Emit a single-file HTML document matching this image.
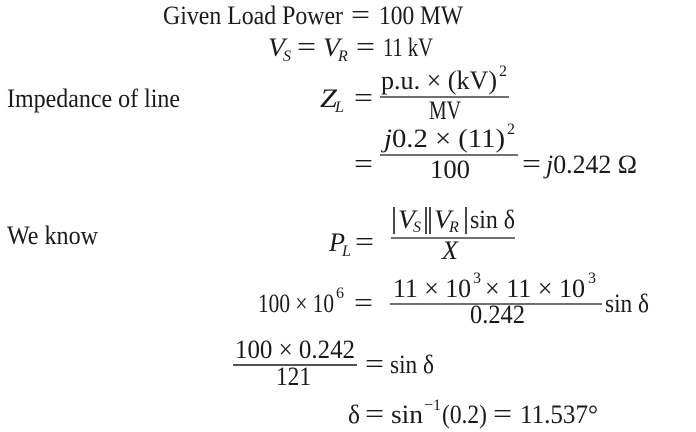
<!DOCTYPE html>
<html><head><meta charset="utf-8"><style>
html,body{margin:0;padding:0;background:#fff;}
svg{display:block;}
text{font-family:"Liberation Serif","DejaVu Serif",serif;font-size:26px;fill:#1a1a1a;}
.i{font-style:italic;}
.s{font-size:16px;}
.e{font-size:28px;}
</style></head><body>
<svg width="696" height="432" viewBox="0 0 696 432" xmlns="http://www.w3.org/2000/svg">
<!-- line 1 -->
<text x="163" y="24" textLength="180" lengthAdjust="spacingAndGlyphs">Given Load Power</text>
<text x="351" y="24" class="e" textLength="19" lengthAdjust="spacingAndGlyphs">=</text>
<text x="379" y="24" textLength="84" lengthAdjust="spacingAndGlyphs">100 MW</text>
<!-- line 2 -->
<text x="268" y="56" class="i" textLength="17" lengthAdjust="spacingAndGlyphs">V</text><text x="283" y="61" class="i s">S</text>
<text x="297" y="56" class="e" textLength="19" lengthAdjust="spacingAndGlyphs">=</text>
<text x="323" y="56" class="i" textLength="17" lengthAdjust="spacingAndGlyphs">V</text><text x="338" y="61" class="i s">R</text>
<text x="356" y="56" class="e" textLength="19" lengthAdjust="spacingAndGlyphs">=</text>
<text x="383" y="56" textLength="50" lengthAdjust="spacingAndGlyphs">11 kV</text>
<!-- line 3 -->
<text x="7" y="107" textLength="173" lengthAdjust="spacingAndGlyphs">Impedance of line</text>
<text x="320" y="107" class="i" textLength="17" lengthAdjust="spacingAndGlyphs">Z</text><text x="335" y="112" class="i s">L</text>
<text x="354" y="107" class="e" textLength="19" lengthAdjust="spacingAndGlyphs">=</text>
<text x="381" y="89" textLength="116" lengthAdjust="spacingAndGlyphs">p.u. × (kV)</text>
<text x="499" y="76" class="s">2</text>
<line x1="380" y1="97" x2="509" y2="97" stroke="#1a1a1a" stroke-width="1.3"/>
<text x="429" y="119" textLength="32" lengthAdjust="spacingAndGlyphs">MV</text>
<!-- line 4 -->
<text x="354" y="173" class="e" textLength="19" lengthAdjust="spacingAndGlyphs">=</text>
<text x="384" y="147" textLength="121" lengthAdjust="spacingAndGlyphs"><tspan class="i">j</tspan>0.2 × (11)</text>
<text x="507" y="134" class="s">2</text>
<line x1="380" y1="155" x2="518" y2="155" stroke="#1a1a1a" stroke-width="1.3"/>
<text x="430" y="178" textLength="40" lengthAdjust="spacingAndGlyphs">100</text>
<text x="522" y="173" class="e" textLength="19" lengthAdjust="spacingAndGlyphs">=</text>
<text x="546" y="173" textLength="91" lengthAdjust="spacingAndGlyphs"><tspan class="i">j</tspan>0.242 Ω</text>
<!-- line 5 -->
<text x="7" y="244" textLength="91" lengthAdjust="spacingAndGlyphs">We know</text>
<text x="329" y="251" class="i" textLength="16" lengthAdjust="spacingAndGlyphs">P</text><text x="342" y="256" class="i s">L</text>
<text x="355" y="251" class="e" textLength="19" lengthAdjust="spacingAndGlyphs">=</text>
<line x1="394" y1="207" x2="394" y2="234" stroke="#1a1a1a" stroke-width="1.6"/>
<text x="398" y="228" class="i" textLength="17" lengthAdjust="spacingAndGlyphs">V</text><text x="413" y="232" class="i s">S</text>
<line x1="426" y1="207" x2="426" y2="234" stroke="#1a1a1a" stroke-width="1.6"/>
<line x1="430" y1="207" x2="430" y2="234" stroke="#1a1a1a" stroke-width="1.6"/>
<text x="434" y="228" class="i" textLength="17" lengthAdjust="spacingAndGlyphs">V</text><text x="449" y="232" class="i s">R</text>
<line x1="466" y1="207" x2="466" y2="234" stroke="#1a1a1a" stroke-width="1.6"/>
<text x="470" y="228" textLength="45" lengthAdjust="spacingAndGlyphs">sin δ</text>
<line x1="391" y1="238" x2="515" y2="238" stroke="#1a1a1a" stroke-width="1.3"/>
<text x="442" y="259" class="i">X</text>
<!-- line 6 -->
<text x="258" y="312" textLength="76" lengthAdjust="spacingAndGlyphs">100 × 10</text>
<text x="336" y="298" class="s">6</text>
<text x="354" y="312" class="e" textLength="19" lengthAdjust="spacingAndGlyphs">=</text>
<text x="393" y="297" textLength="78" lengthAdjust="spacingAndGlyphs">11 × 10</text>
<text x="473" y="283" class="s">3</text>
<text x="485" y="297" textLength="100" lengthAdjust="spacingAndGlyphs">× 11 × 10</text>
<text x="588" y="283" class="s">3</text>
<line x1="390" y1="304" x2="602" y2="304" stroke="#1a1a1a" stroke-width="1.3"/>
<text x="470" y="323" textLength="55" lengthAdjust="spacingAndGlyphs">0.242</text>
<text x="605" y="312" textLength="44" lengthAdjust="spacingAndGlyphs">sin δ</text>
<!-- line 7 -->
<text x="235" y="358" textLength="120" lengthAdjust="spacingAndGlyphs">100 × 0.242</text>
<line x1="233" y1="365" x2="357" y2="365" stroke="#1a1a1a" stroke-width="1.6"/>
<text x="276" y="385" textLength="35" lengthAdjust="spacingAndGlyphs">121</text>
<text x="365" y="373" class="e" textLength="19" lengthAdjust="spacingAndGlyphs">=</text>
<text x="390" y="373" textLength="44" lengthAdjust="spacingAndGlyphs">sin δ</text>
<!-- line 8 -->
<text x="348" y="423" textLength="12" lengthAdjust="spacingAndGlyphs">δ</text>
<text x="365" y="423" class="e" textLength="19" lengthAdjust="spacingAndGlyphs">=</text>
<text x="391" y="423" textLength="32" lengthAdjust="spacingAndGlyphs">sin</text>
<text x="424" y="410" class="s">−1</text>
<text x="442" y="423" textLength="45" lengthAdjust="spacingAndGlyphs">(0.2)</text>
<text x="493" y="423" class="e" textLength="19" lengthAdjust="spacingAndGlyphs">=</text>
<text x="520" y="423" textLength="78" lengthAdjust="spacingAndGlyphs">11.537°</text>
</svg>
</body></html>
